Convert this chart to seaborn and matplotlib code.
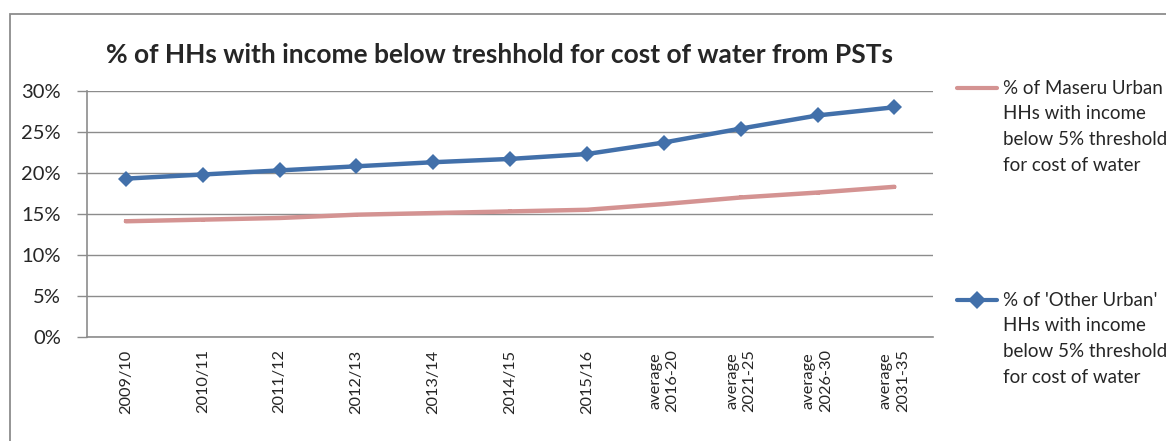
import pandas as pd
import matplotlib.pyplot as plt
import matplotlib.patches as mpatches
import seaborn as sns
import numpy as np

# Data
periods = ["2009/10", "2010/11", "2011/12", "2012/13", "2013/14", "2014/15",
           "2015/16", "average\n2016-20", "average\n2021-25", "average\n2026-30",
           "average\n2031-35"]
maseru_urban = [14.1, 14.3, 14.5, 14.9, 15.1, 15.3, 15.5, 16.2, 17.0, 17.6, 18.3]
other_urban = [19.3, 19.8, 20.3, 20.8, 21.3, 21.7, 22.3, 23.7, 25.4, 27.0, 28.0]

label_maseru = ["% of Maseru Urban", "HHs with income", "below 5% threshold", "for cost of water"]
label_other = ["% of 'Other Urban'", "HHs with income", "below 5% threshold", "for cost of water"]

red = "#D49392"
blue = "#4270AA"

df = pd.DataFrame({
    "pos": list(range(len(periods))) * 2,
    "value": maseru_urban + other_urban,
    "series": ["maseru"] * len(periods) + ["other"] * len(periods),
})

sns.set_theme(style="white")
plt.rcParams["font.family"] = ["Lato", "DejaVu Sans"]

fig = plt.figure(figsize=(11.66, 4.41), dpi=100)
ax = fig.add_axes([0.075, 0.236, 0.725, 0.558])

# outer chart border
fig.patches.append(mpatches.Rectangle((10 / 1166, -0.05), 1.2, 1 - 14 / 441 + 0.05,
                                      transform=fig.transFigure, fill=False,
                                      edgecolor="#8c8c8c", linewidth=1.3))

sns.lineplot(data=df, x="pos", y="value", hue="series", style="series",
             palette={"maseru": red, "other": blue},
             markers={"maseru": "s", "other": "D"},
             dashes=False, linewidth=3.2, ax=ax, legend=False)

lines = ax.get_lines()
lines[0].set_markersize(2.5)
lines[1].set_markersize(8.5)
for ln in lines:
    ln.set_markeredgewidth(0)

ax.set_xlim(-0.5, len(periods) - 0.5)
ax.set_ylim(0, 30)
ax.set_yticks(range(0, 31, 5))
ax.set_yticklabels([f"{v}%" for v in range(0, 31, 5)], fontsize=14.5)
ax.set_xticks(range(len(periods)))
ax.set_xticklabels(periods, rotation=90, fontsize=11.8, linespacing=1.3, va="top")
ax.set_xticks(np.arange(-0.5, len(periods), 1), minor=True)
ax.tick_params(axis="x", which="major", length=0, pad=9)
ax.tick_params(axis="x", which="minor", length=7, width=1, color="#8c8c8c", direction="out")
ax.tick_params(axis="y", length=7, width=1, color="#8c8c8c", direction="out", pad=12, left=True)
ax.set_xlabel("")
ax.set_ylabel("")

ax.grid(axis="y", color="#8c8c8c", linewidth=1)
for side in ["top", "right"]:
    ax.spines[side].set_visible(False)
for side in ["left", "bottom"]:
    ax.spines[side].set_color("#8c8c8c")
    ax.spines[side].set_linewidth(1.2)

fig.text(500 / 1166, 1 - 55 / 441, "% of HHs with income below treshhold for cost of water from PSTs",
         ha="center", va="center", fontsize=19, fontweight="bold")

# legend, drawn by hand so the key sits on the first text line
W, H = 1166, 441
for (y0, lbl, col, mk, ms) in [(88, label_maseru, red, "s", 3), (300, label_other, blue, "D", 9)]:
    fig.add_artist(plt.Line2D([957 / W, 997 / W], [1 - y0 / H] * 2, transform=fig.transFigure,
                              color=col, linewidth=3))
    fig.add_artist(plt.Line2D([977 / W], [1 - y0 / H], transform=fig.transFigure,
                              color=col, marker=mk, markersize=ms, markeredgewidth=0))
    for i, line in enumerate(lbl):
        fig.text(1003 / W, 1 - (y0 + i * 25.7) / H, line, ha="left", va="center",
                 fontsize=13.5)

plt.savefig("out.png", dpi=100)
